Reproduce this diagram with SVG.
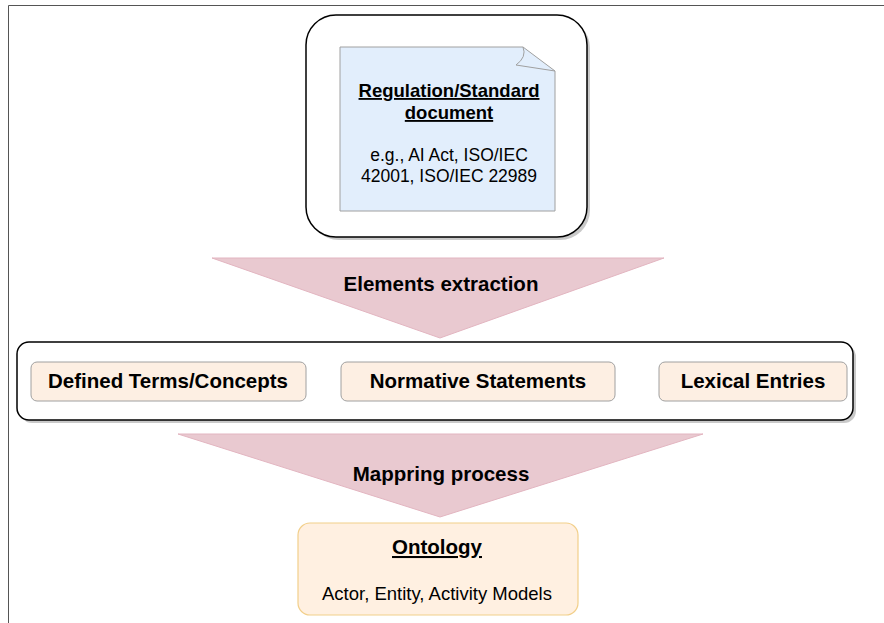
<svg xmlns="http://www.w3.org/2000/svg" width="884" height="623" viewBox="0 0 884 623">
<defs>
<style>
text{font-family:"Liberation Sans",Arial,Helvetica,sans-serif;fill:#000;text-anchor:middle}
.b{font-weight:bold}
.u{text-decoration:underline}
.frame{fill:#fff;stroke:#000;stroke-width:1.5}
.shadow{fill:#888;opacity:0.45}
.item{fill:#fdefe3;stroke:#a0a0a0;stroke-width:1}
.tri{fill:#e9c9d0;stroke:#e2b5c0;stroke-width:1}
</style>
</defs>
<rect width="884" height="623" fill="#fff"/>
<path d="M8.5 623 V5.5 H884" fill="none" stroke="#555" stroke-width="1"/>

<g id="connectors">
<g id="elements-extraction">
<polygon class="tri" points="212,258 664,258 440,338"/>
<text class="b" x="441" y="291" font-size="20.5">Elements extraction</text>
</g>
<g id="mapping-process">
<polygon class="tri" points="178,434 703,434 440,517"/>
<text class="b" x="441" y="481" font-size="20.5">Mappring process</text>
</g>
</g>

<g id="source">
<rect class="shadow" x="309" y="18" width="281" height="222" rx="30"/>
<rect class="frame" x="306" y="15" width="281" height="222" rx="30"/>
<path d="M340 47 H523 L555 71 V211 H340 Z" fill="#e2eefc" stroke="#a0a0a0" stroke-width="1"/>
<path d="M523 47 Q527 57 516 65 L555 71" fill="none" stroke="#a0a0a0" stroke-width="1"/>
<text class="b u" x="449" y="97" font-size="18.5">Regulation/Standard</text>
<text class="b u" x="449" y="119" font-size="18.5">document</text>
<text x="449" y="161" font-size="17.5">e.g., AI Act, ISO/IEC</text>
<text x="449" y="182" font-size="17.5">42001, ISO/IEC 22989</text>
</g>

<g id="elements">
<rect class="shadow" x="20" y="345" width="836" height="78" rx="12"/>
<rect class="frame" x="17" y="342" width="836" height="78" rx="12"/>
<g id="defined-terms">
<rect class="item" x="31" y="362" width="275" height="39" rx="6"/>
<text class="b" x="168" y="388" font-size="20.5">Defined Terms/Concepts</text>
</g>
<g id="normative-statements">
<rect class="item" x="341" y="362" width="274" height="39" rx="6"/>
<text class="b" x="478" y="388" font-size="20.5">Normative Statements</text>
</g>
<g id="lexical-entries">
<rect class="item" x="659" y="362" width="188" height="39" rx="6"/>
<text class="b" x="753" y="388" font-size="20.5">Lexical Entries</text>
</g>
</g>

<g id="ontology">
<rect x="298" y="523" width="280" height="92" rx="12" fill="#fff0e1" stroke="#f2cf8a" stroke-width="1.2"/>
<text class="b u" x="437" y="554" font-size="20.5">Ontology</text>
<text x="437" y="600" font-size="18.5">Actor, Entity, Activity Models</text>
</g>
</svg>
